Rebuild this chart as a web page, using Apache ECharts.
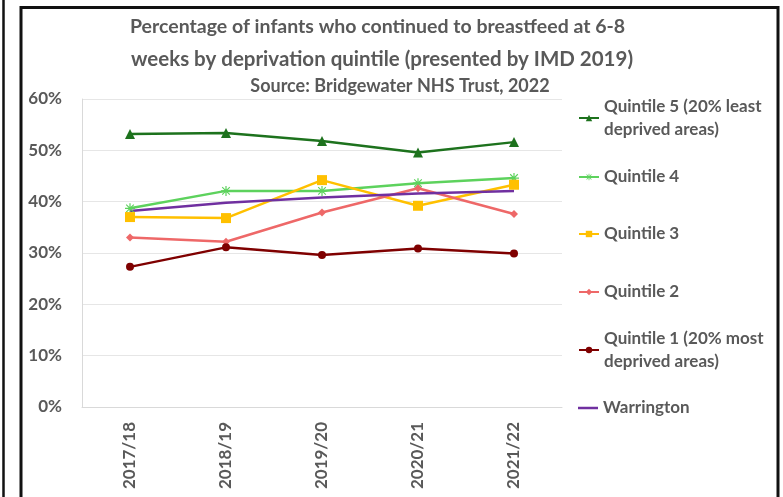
<!DOCTYPE html>
<html>
<head>
<meta charset="utf-8">
<script src="https://cdn.jsdelivr.net/npm/echarts@6/dist/echarts.min.js"></script>
<style>
  html, body { margin: 0; padding: 0; background: #fff; }
  #chart { width: 783px; height: 497px; }
</style>
</head>
<body>
<div id="chart"></div>
<script>
// chart data
var years = ['2017/18', '2018/19', '2019/20', '2020/21', '2021/22'];
var quintile5 = [53.2, 53.4, 51.8, 49.6, 51.6];
var quintile4 = [38.7, 42.1, 42.1, 43.6, 44.6];
var quintile3 = [37.0, 36.8, 44.2, 39.2, 43.3];
var quintile2 = [33.0, 32.2, 37.9, 42.6, 37.6];
var quintile1 = [27.3, 31.1, 29.6, 30.9, 29.9];
var warrington = [38.2, 39.8, 40.8, 41.6, 42.1];
var yTicks = [0, 10, 20, 30, 40, 50, 60];

var grey = '#595959';
var font = 'Lato';
var star = 'path://M4.4 0H5.6V10H4.4Z M0.8 1.6L1.6 0.8L9.2 8.4L8.4 9.2Z M8.4 0.8L9.2 1.6L1.6 9.2L0.8 8.4Z M0 4.4H10V5.6H0Z';

var names = [
  'Quintile 5 (20% least\ndeprived areas)',
  'Quintile 4',
  'Quintile 3',
  'Quintile 2',
  'Quintile 1 (20% most\ndeprived areas)',
  'Warrington'
];

function line(name, data, color, symbol, size) {
  return {
    name: name,
    type: 'line',
    data: data,
    symbol: symbol,
    symbolSize: size,
    showSymbol: symbol !== 'none',
    lineStyle: { color: color, width: 2.5 },
    itemStyle: { color: color },
    animation: false
  };
}

// one legend per entry so each sits where the original one does
var legendTops = [83.5, 165.5, 222.5, 280.5, 315.5, 396.5];
var legends = names.map(function (n, i) {
  var twoLines = n.indexOf('\n') >= 0;
  var isWarr = n === 'Warrington';
  return {
    data: [n],
    orient: 'vertical',
    left: 578,
    top: legendTops[i],
    padding: 0,
    itemWidth: 20,
    itemHeight: isWarr ? 2.5 : 8,
    icon: isWarr ? 'rect' : undefined,
    selectedMode: false,
    textStyle: {
      color: grey, fontFamily: font, fontWeight: 'bold', fontSize: 17,
      lineHeight: 23, padding: twoLines ? [23, 0, 0, 0] : 0
    }
  };
});

var myChart = echarts.init(document.getElementById('chart'));
var option = {
  backgroundColor: '#fff',
  title: [
    { text: 'Percentage of infants who continued to breastfeed at 6-8', left: 130, top: 17, padding: 0,
      textStyle: { color: grey, fontFamily: font, fontWeight: 'bold', fontSize: 19.5 } },
    { text: 'weeks by deprivation quintile (presented by IMD 2019)', left: 131, top: 49, padding: 0,
      textStyle: { color: grey, fontFamily: font, fontWeight: 'bold', fontSize: 20.5 } },
    { text: 'Source: Bridgewater NHS Trust, 2022', left: 400, top: 77, padding: 0, textAlign: 'center',
      textStyle: { color: grey, fontFamily: font, fontWeight: 'bold', fontSize: 18 } }
  ],
  legend: legends,
  grid: { left: 82, right: 221, top: 99, bottom: 90 },
  xAxis: {
    type: 'category',
    data: years,
    axisLine: { lineStyle: { color: '#d9d9d9' } },
    axisTick: { show: false },
    axisLabel: { rotate: 90, margin: 15, color: grey, fontFamily: font, fontWeight: 'bold', fontSize: 17 }
  },
  yAxis: {
    type: 'value',
    min: yTicks[0],
    max: yTicks[yTicks.length - 1],
    interval: 10,
    axisLine: { show: true, lineStyle: { color: '#d9d9d9' } },
    splitLine: { lineStyle: { color: '#e6e6e6' } },
    axisLabel: {
      margin: 20, color: grey, fontFamily: font, fontWeight: 'bold', fontSize: 17,
      formatter: function (v) { return v + '%'; }
    }
  },
  graphic: [
    { type: 'line', shape: { x1: 3.5, y1: 0, x2: 3.5, y2: 497 }, style: { stroke: '#111', lineWidth: 2.5 } },
    { type: 'polyline', shape: { points: [[21, 497], [21, 7.5], [778, 7.5], [778, 497]] }, style: { stroke: '#111', lineWidth: 3, fill: null } }
  ],
  series: [
    line(names[0], quintile5, '#1d721d', 'triangle', 10),
    line(names[1], quintile4, '#5dd25d', star, 10),
    line(names[2], quintile3, '#ffc000', 'rect', 10),
    line(names[3], quintile2, '#ee6868', 'diamond', 8),
    line(names[4], quintile1, '#7f0000', 'circle', 8),
    line(names[5], warrington, '#7030a0', 'none', 0)
  ]
};
myChart.setOption(option);
</script>
</body>
</html>
